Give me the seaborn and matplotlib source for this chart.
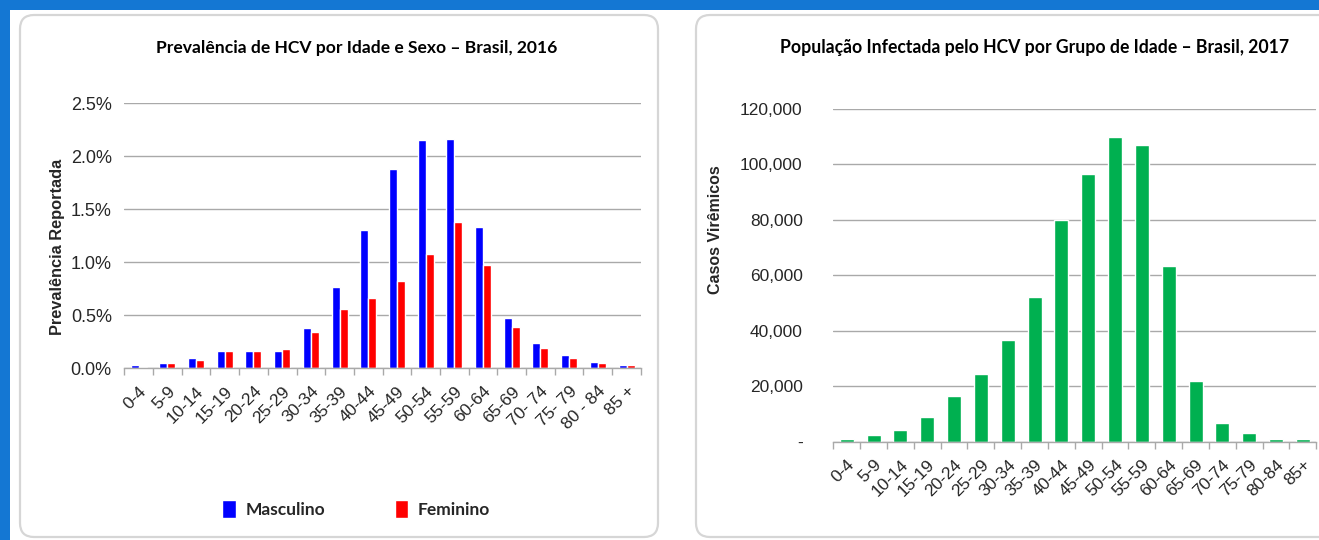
import numpy as np
import pandas as pd
import matplotlib
matplotlib.use("Agg")
import matplotlib.pyplot as plt
import seaborn as sns
from matplotlib.patches import FancyBboxPatch, Rectangle
from matplotlib.ticker import FuncFormatter

# Age groups
faixas = ["0-4", "5-9", "10-14", "15-19", "20-24", "25-29", "30-34", "35-39",
          "40-44", "45-49", "50-54", "55-59", "60-64", "65-69", "70-74",
          "75-79", "80-84", "85+"]
rotulos_prev = ["0-4", "5-9", "10-14", "15-19", "20-24", "25-29", "30-34",
                "35-39", "40-44", "45-49", "50-54", "55-59", "60-64", "65-69",
                "70- 74", "75- 79", "80 - 84", "85 +"]

# Reported prevalence (%) by sex, 2016
masculino = [0.03, 0.05, 0.10, 0.16, 0.16, 0.16, 0.38, 0.77, 1.30, 1.88,
             2.15, 2.16, 1.33, 0.47, 0.24, 0.13, 0.06, 0.03]
feminino = [0.01, 0.05, 0.08, 0.16, 0.16, 0.18, 0.34, 0.56, 0.66, 0.82,
            1.08, 1.38, 0.97, 0.39, 0.19, 0.10, 0.05, 0.03]

# Viremic cases by age group, 2017
casos = [900, 2400, 4200, 9000, 16400, 24500, 36700, 52200, 80000, 96500,
         110000, 107000, 63300, 22000, 6600, 3100, 1100, 1100]

W, H = 1319, 540
AZUL_FUNDO = "#1477d3"
BORDA = "#d6d6d6"
GRADE = "#a9a9a9"
TICKS = ["Liberation Sans", "DejaVu Sans"]
TITULO = ["Lato", "DejaVu Sans"]

sns.set_theme(style="white")
plt.rcParams["font.family"] = ["Liberation Sans", "DejaVu Sans"]

fig = plt.figure(figsize=(W / 100, H / 100), dpi=100, facecolor="white")

# Background layer in pixel coordinates (y grows downward)
bg = fig.add_axes([0, 0, 1, 1], zorder=-5)
bg.set_xlim(0, W)
bg.set_ylim(H, 0)
bg.axis("off")
bg.add_patch(Rectangle((0, 0), W, 10, color=AZUL_FUNDO, lw=0))
bg.add_patch(Rectangle((0, 0), 10, H, color=AZUL_FUNDO, lw=0))
for x0, x1 in [(20, 658), (696, 1345)]:
    bg.add_patch(FancyBboxPatch((x0, 15), x1 - x0, 522,
                                boxstyle="round,pad=0,rounding_size=14",
                                fc="white", ec=BORDA, lw=1.6))


def estilo_eixo(ax, n, ylabel_pad):
    ax.set_xlim(-0.5, n - 0.5)
    ax.set_axisbelow(True)
    ax.yaxis.grid(True, color=GRADE, lw=1.0)
    ax.xaxis.grid(False)
    for s in ("top", "right", "left"):
        ax.spines[s].set_visible(False)
    ax.spines["bottom"].set_color(GRADE)
    ax.spines["bottom"].set_linewidth(1.0)
    ax.set_facecolor("none")
    ax.set_xticks(np.arange(n))
    ax.set_xticks(np.arange(n + 1) - 0.5, minor=True)
    ax.tick_params(axis="x", which="major", length=0, pad=11)
    ax.tick_params(axis="x", which="minor", length=5, width=1.0,
                   color=GRADE, bottom=True)
    ax.tick_params(axis="y", length=0, pad=ylabel_pad)
    ax.set_xlabel("")


# ---- Left: prevalence by age and sex ----
df_prev = pd.DataFrame({
    "faixa": faixas * 2,
    "valor": masculino + feminino,
    "sexo": ["Masculino"] * len(faixas) + ["Feminino"] * len(faixas),
})
ax1 = fig.add_axes([124.3 / W, 1 - 368.3 / H, 516.6 / W, (368.3 - 103) / H])
sns.barplot(data=df_prev, x="faixa", y="valor", hue="sexo", order=faixas,
            palette={"Masculino": "#0000ff", "Feminino": "#ff0000"},
            saturation=1, width=0.56, ax=ax1, errorbar=None)
ax1.set_ylim(0, 2.5)
ax1.set_yticks(np.arange(0, 2.51, 0.5))
ax1.yaxis.set_major_formatter(FuncFormatter(lambda v, p: f"{v:.1f}%"))
estilo_eixo(ax1, len(faixas), 9)
ax1.set_xticklabels(rotulos_prev, rotation=45, ha="right", va="top",
                    rotation_mode="anchor", family=TICKS, fontsize=12.5)
for t in ax1.get_yticklabels():
    t.set_family(TICKS)
    t.set_fontsize(13)
ax1.set_ylabel("Prevalência Reportada", fontsize=11.8, fontweight="bold",
               va="center")
ax1.yaxis.set_label_coords((57 - 124.3) / 516.6, (368.3 - 247) / 265.3)
sns.move_legend(ax1, "center left", bbox_to_anchor=(222 / W, 1 - 509 / H),
                bbox_transform=fig.transFigure, ncol=2, title=None,
                frameon=False, borderpad=0, borderaxespad=0,
                handlelength=0.8, handleheight=1.2, handletextpad=0.55,
                columnspacing=4.0,
                prop={"family": TITULO, "weight": "bold", "size": 12.5})

# ---- Right: infected population by age group ----
df_casos = pd.DataFrame({"faixa": faixas, "casos": casos})
ax2 = fig.add_axes([833.3 / W, 1 - 441.7 / H, 483 / W, (441.7 - 109) / H])
sns.barplot(data=df_casos, x="faixa", y="casos", order=faixas,
            color="#00b050", saturation=1, width=0.52, ax=ax2, errorbar=None)
ax2.set_ylim(0, 120000)
ax2.set_yticks(np.arange(0, 120001, 20000))
ax2.yaxis.set_major_formatter(
    FuncFormatter(lambda v, p: "-" if v == 0 else f"{v:,.0f}"))
estilo_eixo(ax2, len(faixas), 22)
ax2.set_xticklabels(faixas, rotation=45, ha="right", va="top",
                    rotation_mode="anchor", family=TICKS, fontsize=12.5)
for t in ax2.get_yticklabels():
    t.set_family(TICKS)
    t.set_fontsize(12.5)
ax2.set_ylabel("Casos Virêmicos", fontsize=11.5, fontweight="bold",
               va="center")
ax2.yaxis.set_label_coords((716 - 833.3) / 483, (441.7 - 230) / 332.7)

# Panel titles
bg.text(357, 48, "Prevalência de HCV por Idade e Sexo – Brasil, 2016",
        ha="center", va="center", family=TITULO, fontweight="bold",
        fontsize=12.6, color="black")
bg.text(1035, 48,
        "População Infectada pelo HCV por Grupo de Idade – Brasil, 2017",
        ha="center", va="center", family=TITULO, fontweight="bold",
        fontsize=12.7, color="black")

fig.savefig("out.png", dpi=100, facecolor="white")
